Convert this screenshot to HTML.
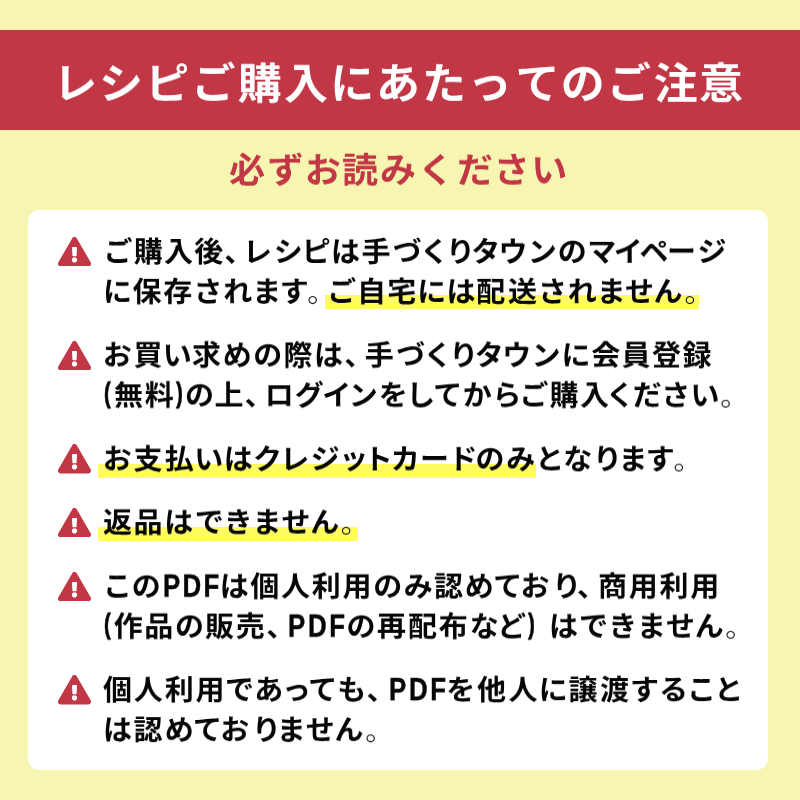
<!DOCTYPE html>
<html lang="ja">
<head>
<meta charset="utf-8">
<title>レシピご購入にあたってのご注意</title>
<style>
html,body{margin:0;padding:0}
body{width:800px;height:800px;position:relative;overflow:hidden;background:#f7f5b2;
 font-family:"Liberation Sans","Noto Sans CJK JP",sans-serif;font-weight:700;
 font-feature-settings:"palt" 1;font-kerning:none}
h1,h2,p,ul,li{margin:0;padding:0;font-weight:700;list-style:none}
.band{position:absolute;left:0;top:30px;width:800px;height:100px;background:#c23745}
.t{position:absolute;top:0;white-space:pre;will-change:transform;transform-origin:0 50%}
.title{color:#fff;font-size:44px;height:100px;line-height:100px}
.sub{color:#c23745;font-size:36px;height:50px;line-height:50px}
.card{position:absolute;left:28px;top:210px;width:740px;height:560px;background:#fff;border-radius:11.5px}
.ln{color:#060606;font-size:29px;height:44px;line-height:44px}
.p{font-weight:300;position:relative;top:.6px}
.lat,.par{display:inline-block;line-height:0;position:relative;transform-origin:0 50%}
.lat{font-size:34px;transform:scaleX(0.76);top:-0.2px;-webkit-text-stroke:.45px #060606}
.par{font-size:29.5px;transform:scaleX(0.693);top:-2.7px;-webkit-text-stroke:.7px #060606}
.hl{position:absolute;height:14px;background:#fffc62}
.ic{position:absolute;left:30px;width:33px;height:29.4px;fill:#c23745}
</style>
</head>
<body>
<header class="band">
<h1 class="t title" style="left:55.35px;transform:translateY(4.45px) scaleY(0.962)"><span style="letter-spacing:3.85px">レ</span><span style="letter-spacing:5.64px">シピご</span><span style="letter-spacing:2.45px">購入</span><span style="letter-spacing:3.29px">にあ</span><span style="letter-spacing:7.03px">た</span><span style="letter-spacing:9.32px">っ</span><span style="letter-spacing:4.85px">ての</span><span style="letter-spacing:6.46px">ご</span><span style="letter-spacing:1.2px">注意</span></h1>
</header>
<h2 class="t sub" style="left:228.62px;transform:translateY(146.2px) scaleY(0.962)"><span style="letter-spacing:3.37px">必ず</span><span style="letter-spacing:2.09px">お読</span><span style="letter-spacing:6px">み</span><span style="letter-spacing:8.5px">く</span><span style="letter-spacing:4.33px">ださい</span></h2>
<main class="card">
<ul>
<li>
<svg class="ic" style="top:26.9px" viewBox="0 0 576 512" preserveAspectRatio="none" aria-hidden="true"><path d="M569.517 440.013C587.975 472.007 564.806 512 527.94 512H48.054c-36.937 0-59.999-40.055-41.577-71.987L246.423 23.985c18.467-32.009 64.72-31.951 83.154 0l239.94 416.028zM288 354c-25.405 0-46 20.595-46 46s20.595 46 46 46 46-20.595 46-46-20.595-46-46-46zm-43.673-165.346l7.418 136c.347 6.364 5.609 11.346 11.982 11.346h48.546c6.373 0 11.635-4.982 11.982-11.346l7.418-136c.375-6.874-5.098-12.654-11.982-12.654h-63.383c-6.884 0-12.356 5.78-11.981 12.654z"/></svg>
<div class="hl" style="left:297px;top:85px;width:374px"></div>
<p>
<span class="t ln" style="left:76.73px;transform:translateY(20.4px) scaleY(0.962)"><span style="letter-spacing:3.41px">ご</span><span style="letter-spacing:1.26px">購入後</span><span style="letter-spacing:5.13px">、</span><span style="letter-spacing:3.23px">レ</span><span style="letter-spacing:1.07px">シピ</span><span style="letter-spacing:2.11px">は手づ</span><span style="letter-spacing:4.35px">く</span><span style="letter-spacing:0.59px">りタ</span><span style="letter-spacing:2.29px">ウンの</span><span style="letter-spacing:-0.85px">マイペ</span><span style="letter-spacing:2.15px">ージ</span></span>
<span class="t ln" style="left:74.64px;transform:translateY(60.3px) scaleY(0.962)"><span style="letter-spacing:1.58px">に保</span><span style="letter-spacing:2.74px">存さ</span><span style="letter-spacing:1.46px">れま</span><span style="letter-spacing:-0.52px">す</span><span class="p" style="letter-spacing:7.36px">。</span><span style="letter-spacing:3.3px">ご</span><span style="letter-spacing:1.15px">自宅には</span><span style="letter-spacing:2.61px">配送さ</span><span style="letter-spacing:1.47px">れませ</span><span style="letter-spacing:2.3px">ん</span><span class="p" style="letter-spacing:0px">。</span></span>
</p>
</li>
<li>
<svg class="ic" style="top:130.6px" viewBox="0 0 576 512" preserveAspectRatio="none" aria-hidden="true"><path d="M569.517 440.013C587.975 472.007 564.806 512 527.94 512H48.054c-36.937 0-59.999-40.055-41.577-71.987L246.423 23.985c18.467-32.009 64.72-31.951 83.154 0l239.94 416.028zM288 354c-25.405 0-46 20.595-46 46s20.595 46 46 46 46-20.595 46-46-20.595-46-46-46zm-43.673-165.346l7.418 136c.347 6.364 5.609 11.346 11.982 11.346h48.546c6.373 0 11.635-4.982 11.982-11.346l7.418-136c.375-6.874-5.098-12.654-11.982-12.654h-63.383c-6.884 0-12.356 5.78-11.981 12.654z"/></svg>
<p>
<span class="t ln" style="left:74.56px;transform:translateY(123.9px) scaleY(0.962)"><span style="letter-spacing:2.29px">お</span><span style="letter-spacing:0.55px">買い</span><span style="letter-spacing:1.64px">求めの際は</span><span style="letter-spacing:6.09px">、</span><span style="letter-spacing:2.22px">手づ</span><span style="letter-spacing:4.32px">く</span><span style="letter-spacing:0.69px">りタ</span><span style="letter-spacing:2.41px">ウン</span><span style="letter-spacing:1.43px">に会員登録</span></span>
<span class="t ln" style="left:76.48px;transform:translateY(163.9px) scaleY(0.962)"><span class="par" style="margin-right:0.11px">(</span><span style="letter-spacing:1.83px">無料</span><span class="par" style="margin-right:-0.4px">)</span><span style="letter-spacing:0.93px">の上</span><span style="letter-spacing:5.57px">、</span><span style="letter-spacing:0.81px">ログイ</span><span style="letter-spacing:2.66px">ン</span><span style="letter-spacing:1.09px">をし</span><span style="letter-spacing:2.88px">てか</span><span style="letter-spacing:1.02px">ら</span><span style="letter-spacing:3.44px">ご</span><span style="letter-spacing:1.52px">購</span><span style="letter-spacing:-0.65px">入</span><span style="letter-spacing:2.49px">くださ</span><span style="letter-spacing:0.22px">い</span><span class="p" style="letter-spacing:0px">。</span></span>
</p>
</li>
<li>
<svg class="ic" style="top:234.35px" viewBox="0 0 576 512" preserveAspectRatio="none" aria-hidden="true"><path d="M569.517 440.013C587.975 472.007 564.806 512 527.94 512H48.054c-36.937 0-59.999-40.055-41.577-71.987L246.423 23.985c18.467-32.009 64.72-31.951 83.154 0l239.94 416.028zM288 354c-25.405 0-46 20.595-46 46s20.595 46 46 46 46-20.595 46-46-20.595-46-46-46zm-43.673-165.346l7.418 136c.347 6.364 5.609 11.346 11.982 11.346h48.546c6.373 0 11.635-4.982 11.982-11.346l7.418-136c.375-6.874-5.098-12.654-11.982-12.654h-63.383c-6.884 0-12.356 5.78-11.981 12.654z"/></svg>
<div class="hl" style="left:70px;top:254px;width:438px"></div>
<p>
<span class="t ln" style="left:74.7px;transform:translateY(227.8px) scaleY(0.962)"><span style="letter-spacing:2.32px">お支</span><span style="letter-spacing:0.74px">払い</span><span style="letter-spacing:1.46px">はク</span><span style="letter-spacing:2.54px">レジ</span><span style="letter-spacing:0.64px">ット</span><span style="letter-spacing:2.01px">カー</span><span style="letter-spacing:-0.57px">ド</span><span style="letter-spacing:2.15px">のみと</span><span style="letter-spacing:4.12px">な</span><span style="letter-spacing:1.27px">りま</span><span style="letter-spacing:-0.34px">す</span><span class="p" style="letter-spacing:0px">。</span></span>
</p>
</li>
<li>
<svg class="ic" style="top:297.85px" viewBox="0 0 576 512" preserveAspectRatio="none" aria-hidden="true"><path d="M569.517 440.013C587.975 472.007 564.806 512 527.94 512H48.054c-36.937 0-59.999-40.055-41.577-71.987L246.423 23.985c18.467-32.009 64.72-31.951 83.154 0l239.94 416.028zM288 354c-25.405 0-46 20.595-46 46s20.595 46 46 46 46-20.595 46-46-20.595-46-46-46zm-43.673-165.346l7.418 136c.347 6.364 5.609 11.346 11.982 11.346h48.546c6.373 0 11.635-4.982 11.982-11.346l7.418-136c.375-6.874-5.098-12.654-11.982-12.654h-63.383c-6.884 0-12.356 5.78-11.981 12.654z"/></svg>
<div class="hl" style="left:70px;top:317px;width:260px"></div>
<p>
<span class="t ln" style="left:74.84px;transform:translateY(291px) scaleY(0.962)"><span style="letter-spacing:1.57px">返品</span><span style="letter-spacing:3.26px">はでき</span><span style="letter-spacing:1.96px">ません</span><span class="p" style="letter-spacing:0px">。</span></span>
</p>
</li>
<li>
<svg class="ic" style="top:361.6px" viewBox="0 0 576 512" preserveAspectRatio="none" aria-hidden="true"><path d="M569.517 440.013C587.975 472.007 564.806 512 527.94 512H48.054c-36.937 0-59.999-40.055-41.577-71.987L246.423 23.985c18.467-32.009 64.72-31.951 83.154 0l239.94 416.028zM288 354c-25.405 0-46 20.595-46 46s20.595 46 46 46 46-20.595 46-46-20.595-46-46-46zm-43.673-165.346l7.418 136c.347 6.364 5.609 11.346 11.982 11.346h48.546c6.373 0 11.635-4.982 11.982-11.346l7.418-136c.375-6.874-5.098-12.654-11.982-12.654h-63.383c-6.884 0-12.356 5.78-11.981 12.654z"/></svg>
<p>
<span class="t ln" style="left:76.55px;transform:translateY(355.05px) scaleY(0.962)"><span style="letter-spacing:2.35px">この</span><span class="lat" style="letter-spacing:3.03px;margin-right:-19.94px">PDF</span><span style="letter-spacing:1.78px">は個人利用のみ認</span><span style="letter-spacing:0.94px">めて</span><span style="letter-spacing:6.14px">お</span><span style="letter-spacing:-0.8px">り</span><span style="letter-spacing:6.55px">、</span><span style="letter-spacing:1.74px">商用利用</span></span>
<span class="t ln" style="left:75.92px;transform:translateY(395.05px) scaleY(0.962)"><span class="par" style="margin-right:-0.03px">(</span><span style="letter-spacing:1.56px">作品の販売</span><span style="letter-spacing:7.76px">、</span><span class="lat" style="letter-spacing:3.55px;margin-right:-20.5px">PDF</span><span style="letter-spacing:1.85px">の再配布</span><span style="letter-spacing:0.33px">な</span><span style="letter-spacing:4.01px">ど</span><span class="par" style="margin-right:0px">)</span><span style="letter-spacing:2.7px"> は</span><span style="letter-spacing:3.49px">でき</span><span style="letter-spacing:1.86px">ません</span><span class="p" style="letter-spacing:0px">。</span></span>
</p>
</li>
<li>
<svg class="ic" style="top:465.35px" viewBox="0 0 576 512" preserveAspectRatio="none" aria-hidden="true"><path d="M569.517 440.013C587.975 472.007 564.806 512 527.94 512H48.054c-36.937 0-59.999-40.055-41.577-71.987L246.423 23.985c18.467-32.009 64.72-31.951 83.154 0l239.94 416.028zM288 354c-25.405 0-46 20.595-46 46s20.595 46 46 46 46-20.595 46-46-20.595-46-46-46zm-43.673-165.346l7.418 136c.347 6.364 5.609 11.346 11.982 11.346h48.546c6.373 0 11.635-4.982 11.982-11.346l7.418-136c.375-6.874-5.098-12.654-11.982-12.654h-63.383c-6.884 0-12.356 5.78-11.981 12.654z"/></svg>
<p>
<span class="t ln" style="left:75.28px;transform:translateY(458.55px) scaleY(0.962)"><span style="letter-spacing:1.85px">個人利用であ</span><span style="letter-spacing:0.82px">っ</span><span style="letter-spacing:2.7px">て</span><span style="letter-spacing:1.05px">も</span><span style="letter-spacing:7.84px">、</span><span class="lat" style="letter-spacing:3.5px;margin-right:-20.87px">PDF</span><span style="letter-spacing:2.64px">を他</span><span style="letter-spacing:1.4px">人に</span><span style="letter-spacing:2.5px">譲渡すること</span></span>
<span class="t ln" style="left:74.85px;transform:translateY(498.55px) scaleY(0.962)"><span style="letter-spacing:2.01px">は認</span><span style="letter-spacing:0.96px">めて</span><span style="letter-spacing:5.97px">お</span><span style="letter-spacing:0.69px">り</span><span style="letter-spacing:1.95px">ません</span><span class="p" style="letter-spacing:0px">。</span></span>
</p>
</li>
</ul>
</main>
</body>
</html>
